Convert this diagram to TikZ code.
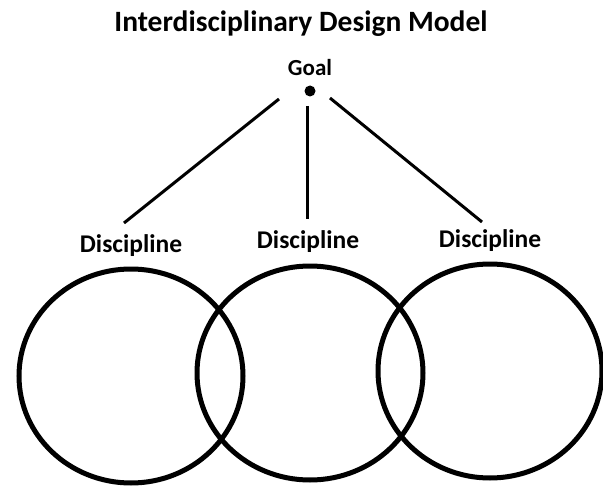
\documentclass[tikz,border=0pt]{standalone}
\usepackage{fontspec}
\setmainfont{Carlito}
\usepackage{tikz}

\begin{document}
\begin{tikzpicture}[x=1pt,y=-1pt,
  word/.style={font=\bfseries\fontsize{25.5}{28}\selectfont,inner sep=0pt},
  ring/.style={line width=5pt}]
\useasboundingbox (0,0) rectangle (603,487);
\path (301, 24) node (title) [font=\bfseries\fontsize{29.5}{34}\selectfont,inner sep=0pt] {Interdisciplinary Design Model};
\path (310, 68) node (goal)  [word,font=\bfseries\fontsize{23}{26}\selectfont] {Goal};
\path (310, 91) node (dot)   [circle,fill,inner sep=0pt,minimum size=11pt] {};
\path (131,246) node (discA) [word] {Discipline};
\path (308,242) node (discB) [word] {Discipline};
\path (490,241) node (discC) [word] {Discipline};
\path (279, 99) coordinate (topA);
\path (307,106) coordinate (topB);
\path (330, 98) coordinate (topC);
\path (124,223) coordinate (endA);
\path (307,219) coordinate (endB);
\path (482,222) coordinate (endC);
\draw [line width=3pt] (topA) -- (endA);
\draw [line width=3pt] (topB) -- (endB);
\draw [line width=3pt] (topC) -- (endC);
\draw [ring] (131,376) ellipse [x radius=112, y radius=107];
\draw [ring] (310,373) ellipse [x radius=113, y radius=107];
\draw [ring] (490,371) ellipse [x radius=112, y radius=107];
\end{tikzpicture}
\end{document}
